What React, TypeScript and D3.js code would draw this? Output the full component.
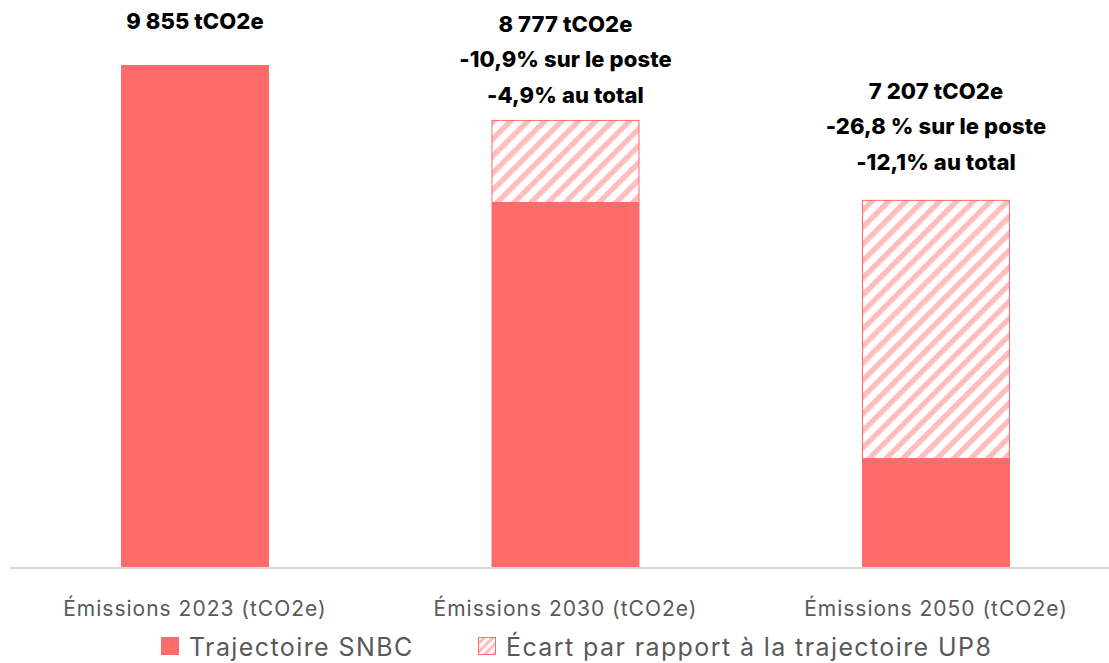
import React from "react";
import * as d3 from "d3";

const categories = ["Émissions 2023 (tCO2e)", "Émissions 2030 (tCO2e)", "Émissions 2050 (tCO2e)"];
const snbcValues = [9855, 7146, 2120];
const gapValues = [0, 1631, 5087];
const labelLines = [
  ["9 855 tCO2e"],
  ["8 777 tCO2e", "-10,9% sur le poste", "-4,9% au total"],
  ["7 207 tCO2e", "-26,8 % sur le poste", "-12,1% au total"],
];
const legendLabels = ["Trajectoire SNBC", "Écart par rapport à la trajectoire UP8"];

const W = 1109;
const H = 663;
const BASE = 567;
const labelGap = [36, 17, 30];
const FONT = "Inter, 'Noto Sans', sans-serif";
const RED = "#ff6b6b";
const PINK = "#ffbdbd";

export default function App() {
  const x = d3.scaleBand<string>().domain(categories).range([10, 1121.5]).paddingInner(0.6).paddingOuter(0.3);
  const y = d3.scaleLinear().domain([0, 11000]).range([BASE, BASE - (502 / 9855) * 11000]);
  const bw = 148;
  const first = x(categories[0])! + x.bandwidth() / 2;
  const cx = (i: number) => 195 + (x(categories[i])! + x.bandwidth() / 2 - first);

  return (
    <svg width={W} height={H} style={{ position: "absolute", left: 0, top: 0, background: "#fff" }}>
      <defs>
        <pattern id="hatch" width="12" height="12" patternUnits="userSpaceOnUse" patternTransform="rotate(45)">
          <rect x="0" y="0" width="12" height="12" fill="#fff" />
          <rect x="0" y="0" width="5.5" height="12" fill={PINK} />
        </pattern>
        <pattern id="hatchL" width="6" height="6" patternUnits="userSpaceOnUse" patternTransform="rotate(45)">
          <rect x="0" y="0" width="6" height="6" fill="#fff" />
          <rect x="0" y="0" width="3" height="6" fill={PINK} />
        </pattern>
      </defs>
      <rect x={0} y={0} width={W} height={H} fill="#fff" />
      {categories.map((c, i) => {
        const c0 = cx(i);
        const total = snbcValues[i] + gapValues[i];
        const topY = y(total);
        return (
          <g key={c}>
            <rect x={c0 - bw / 2} y={y(snbcValues[i])} width={bw} height={BASE - y(snbcValues[i])} fill={RED} />
            {gapValues[i] > 0 && (
              <rect
                x={c0 - bw / 2 + 0.5}
                y={topY + 0.5}
                width={bw - 1}
                height={y(snbcValues[i]) - topY - 1}
                fill="url(#hatch)"
                stroke={RED}
                strokeWidth={1}
              />
            )}
            {labelLines[i].map((t, j) => (
              <text
                key={j}
                x={c0}
                y={topY - labelGap[i] - (labelLines[i].length - 1 - j) * 35.5}
                textAnchor="middle"
                fontFamily={FONT}
                fontWeight={800}
                fontSize={22}
                letterSpacing={0.1}
                fill="#000"
              >
                {t}
              </text>
            ))}
            <text x={c0} y={616} textAnchor="middle" fontFamily={FONT} fontSize={21} letterSpacing={1} fill="#595959">
              {c}
            </text>
          </g>
        );
      })}
      <line x1={10} x2={W} y1={BASE + 1} y2={BASE + 1} stroke="#d9d9d9" strokeWidth={2} />
      <rect x={161} y={637} width={18} height={18} fill={RED} />
      <text x={189} y={656} fontFamily={FONT} fontSize={25} letterSpacing={1.4} fill="#595959">
        {legendLabels[0]}
      </text>
      <rect x={478.5} y={637.5} width={17} height={17} fill="url(#hatchL)" stroke={RED} strokeWidth={1} />
      <text x={506} y={656} fontFamily={FONT} fontSize={25} letterSpacing={1.4} fill="#595959">
        {legendLabels[1]}
      </text>
    </svg>
  );
}
